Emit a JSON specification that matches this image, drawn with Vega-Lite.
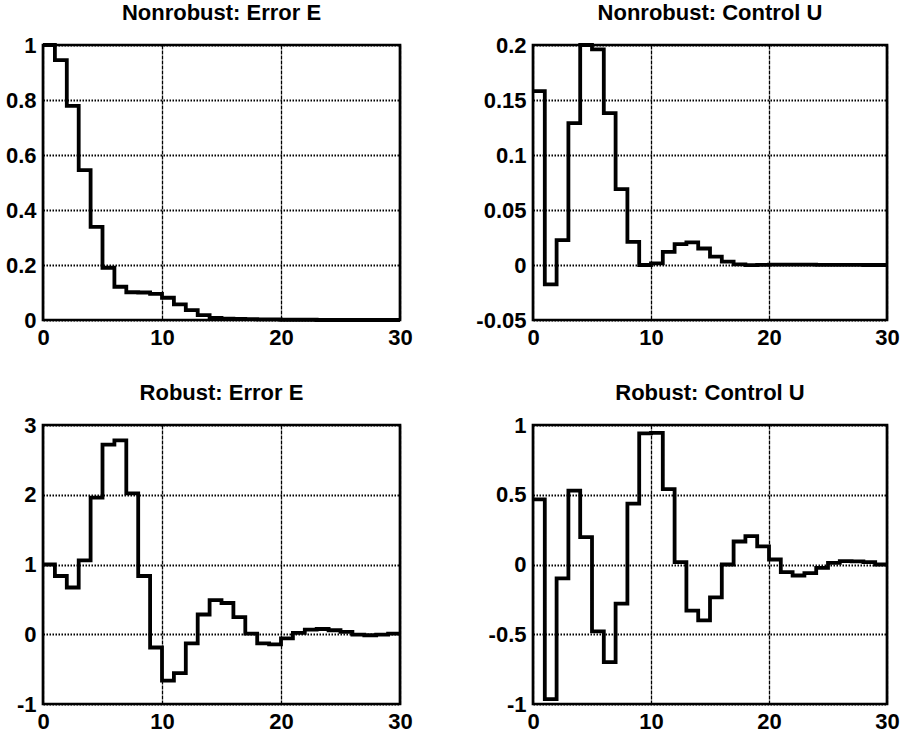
{
  "$schema": "https://vega.github.io/schema/vega-lite/v6.json",
  "background": "white",
  "padding": {"left": 4, "top": 0, "right": 5, "bottom": 0},
  "columns": 2,
  "bounds": "flush",
  "spacing": {"row": 105, "column": 133},
  "datasets": {
    "ne": [
      {"t": 0, "v": 1.0}, {"t": 1, "v": 0.945}, {"t": 2, "v": 0.779}, {"t": 3, "v": 0.545},
      {"t": 4, "v": 0.339}, {"t": 5, "v": 0.19}, {"t": 6, "v": 0.121}, {"t": 7, "v": 0.101},
      {"t": 8, "v": 0.1}, {"t": 9, "v": 0.095}, {"t": 10, "v": 0.081}, {"t": 11, "v": 0.057},
      {"t": 12, "v": 0.036}, {"t": 13, "v": 0.018}, {"t": 14, "v": 0.008}, {"t": 15, "v": 0.005},
      {"t": 16, "v": 0.004}, {"t": 17, "v": 0.003}, {"t": 18, "v": 0.002}, {"t": 19, "v": 0.002},
      {"t": 20, "v": 0.001}, {"t": 21, "v": 0.001}, {"t": 22, "v": 0.001}, {"t": 23, "v": 0.0},
      {"t": 24, "v": 0.0}, {"t": 25, "v": 0.0}, {"t": 26, "v": 0.0}, {"t": 27, "v": 0.0},
      {"t": 28, "v": 0.0}, {"t": 29, "v": 0.0}, {"t": 30, "v": 0.0}
    ],
    "nu": [
      {"t": 0, "v": 0.158}, {"t": 1, "v": -0.0176}, {"t": 2, "v": 0.0227}, {"t": 3, "v": 0.129},
      {"t": 4, "v": 0.2}, {"t": 5, "v": 0.196}, {"t": 6, "v": 0.138}, {"t": 7, "v": 0.069},
      {"t": 8, "v": 0.021}, {"t": 9, "v": 0.0}, {"t": 10, "v": 0.0015}, {"t": 11, "v": 0.012},
      {"t": 12, "v": 0.019}, {"t": 13, "v": 0.0205}, {"t": 14, "v": 0.015}, {"t": 15, "v": 0.0076},
      {"t": 16, "v": 0.003}, {"t": 17, "v": 0.0006}, {"t": 18, "v": -0.0002}, {"t": 19, "v": 0.0002},
      {"t": 20, "v": 0.0004}, {"t": 21, "v": 0.0004}, {"t": 22, "v": 0.0003}, {"t": 23, "v": 0.0003},
      {"t": 24, "v": 0.0002}, {"t": 25, "v": 0.0002}, {"t": 26, "v": 0.0001}, {"t": 27, "v": 0.0001},
      {"t": 28, "v": 0.0}, {"t": 29, "v": 0.0}, {"t": 30, "v": 0.0}
    ],
    "re": [
      {"t": 0, "v": 1.0}, {"t": 1, "v": 0.835}, {"t": 2, "v": 0.67}, {"t": 3, "v": 1.06},
      {"t": 4, "v": 1.96}, {"t": 5, "v": 2.72}, {"t": 6, "v": 2.78}, {"t": 7, "v": 2.02},
      {"t": 8, "v": 0.835}, {"t": 9, "v": -0.19}, {"t": 10, "v": -0.665}, {"t": 11, "v": -0.557},
      {"t": 12, "v": -0.13}, {"t": 13, "v": 0.283}, {"t": 14, "v": 0.49}, {"t": 15, "v": 0.448},
      {"t": 16, "v": 0.245}, {"t": 17, "v": 0.01}, {"t": 18, "v": -0.13}, {"t": 19, "v": -0.146},
      {"t": 20, "v": -0.06}, {"t": 21, "v": 0.02}, {"t": 22, "v": 0.066}, {"t": 23, "v": 0.075},
      {"t": 24, "v": 0.057}, {"t": 25, "v": 0.033}, {"t": 26, "v": -0.005}, {"t": 27, "v": -0.014},
      {"t": 28, "v": -0.005}, {"t": 29, "v": 0.01}, {"t": 30, "v": 0.01}
    ],
    "ru": [
      {"t": 0, "v": 0.467}, {"t": 1, "v": -0.965}, {"t": 2, "v": -0.1}, {"t": 3, "v": 0.53},
      {"t": 4, "v": 0.196}, {"t": 5, "v": -0.48}, {"t": 6, "v": -0.7}, {"t": 7, "v": -0.28},
      {"t": 8, "v": 0.436}, {"t": 9, "v": 0.94}, {"t": 10, "v": 0.944}, {"t": 11, "v": 0.54},
      {"t": 12, "v": 0.017}, {"t": 13, "v": -0.33}, {"t": 14, "v": -0.4}, {"t": 15, "v": -0.235},
      {"t": 16, "v": 0.0}, {"t": 17, "v": 0.165}, {"t": 18, "v": 0.204}, {"t": 19, "v": 0.13},
      {"t": 20, "v": 0.036}, {"t": 21, "v": -0.055}, {"t": 22, "v": -0.079}, {"t": 23, "v": -0.062},
      {"t": 24, "v": -0.024}, {"t": 25, "v": 0.012}, {"t": 26, "v": 0.024}, {"t": 27, "v": 0.022},
      {"t": 28, "v": 0.017}, {"t": 29, "v": 0.0}, {"t": 30, "v": 0.0}
    ]
  },
  "concat": [
    {
      "title": "Nonrobust: Error E",
      "width": 357, "height": 275,
      "data": {"name": "ne"},
      "mark": {"type": "line", "interpolate": "step-after", "color": "black", "strokeWidth": 3.8},
      "encoding": {
        "x": {"field": "t", "type": "quantitative", "scale": {"domain": [0, 30], "nice": false, "zero": false}, "axis": {"values": [0, 10, 20, 30]}},
        "y": {"field": "v", "type": "quantitative", "scale": {"domain": [0, 1], "nice": false, "zero": false}, "axis": {"values": [0, 0.2, 0.4, 0.6, 0.8, 1]}}
      }
    },
    {
      "title": "Nonrobust: Control U",
      "width": 354, "height": 275,
      "data": {"name": "nu"},
      "mark": {"type": "line", "interpolate": "step-after", "color": "black", "strokeWidth": 3.8},
      "encoding": {
        "x": {"field": "t", "type": "quantitative", "scale": {"domain": [0, 30], "nice": false, "zero": false}, "axis": {"values": [0, 10, 20, 30]}},
        "y": {"field": "v", "type": "quantitative", "scale": {"domain": [-0.05, 0.2], "nice": false, "zero": false}, "axis": {"values": [-0.05, 0, 0.05, 0.1, 0.15, 0.2]}}
      }
    },
    {
      "title": "Robust: Error E",
      "width": 357, "height": 279,
      "data": {"name": "re"},
      "mark": {"type": "line", "interpolate": "step-after", "color": "black", "strokeWidth": 3.8},
      "encoding": {
        "x": {"field": "t", "type": "quantitative", "scale": {"domain": [0, 30], "nice": false, "zero": false}, "axis": {"values": [0, 10, 20, 30]}},
        "y": {"field": "v", "type": "quantitative", "scale": {"domain": [-1, 3], "nice": false, "zero": false}, "axis": {"values": [-1, 0, 1, 2, 3]}}
      }
    },
    {
      "title": "Robust: Control U",
      "width": 354, "height": 279,
      "data": {"name": "ru"},
      "mark": {"type": "line", "interpolate": "step-after", "color": "black", "strokeWidth": 3.8},
      "encoding": {
        "x": {"field": "t", "type": "quantitative", "scale": {"domain": [0, 30], "nice": false, "zero": false}, "axis": {"values": [0, 10, 20, 30]}},
        "y": {"field": "v", "type": "quantitative", "scale": {"domain": [-1, 1], "nice": false, "zero": false}, "axis": {"values": [-1, -0.5, 0, 0.5, 1]}}
      }
    }
  ],
  "config": {
    "view": {"stroke": "black", "strokeWidth": 2.7, "fill": "white"},
    "title": {"font": "Liberation Sans", "fontSize": 22, "fontWeight": "bold", "color": "black", "offset": 9, "anchor": "middle"},
    "axis": {
      "title": null,
      "domain": false,
      "ticks": false,
      "labelFont": "Liberation Sans",
      "labelFontWeight": "bold",
      "labelFontSize": 22,
      "labelColor": "black",
      "labelBound": false,
      "labelFlush": false,
      "labelOverlap": false,
      "labelExpr": "'' + datum.value",
      "grid": true,
      "gridColor": "black",
      "gridOpacity": 1
    },
    "axisX": {"labelPadding": 7, "gridWidth": 1.3, "gridDash": [4, 1]},
    "axisY": {"labelPadding": 7, "gridWidth": 1.8, "gridDash": [1.5, 1.5]}
  }
}
